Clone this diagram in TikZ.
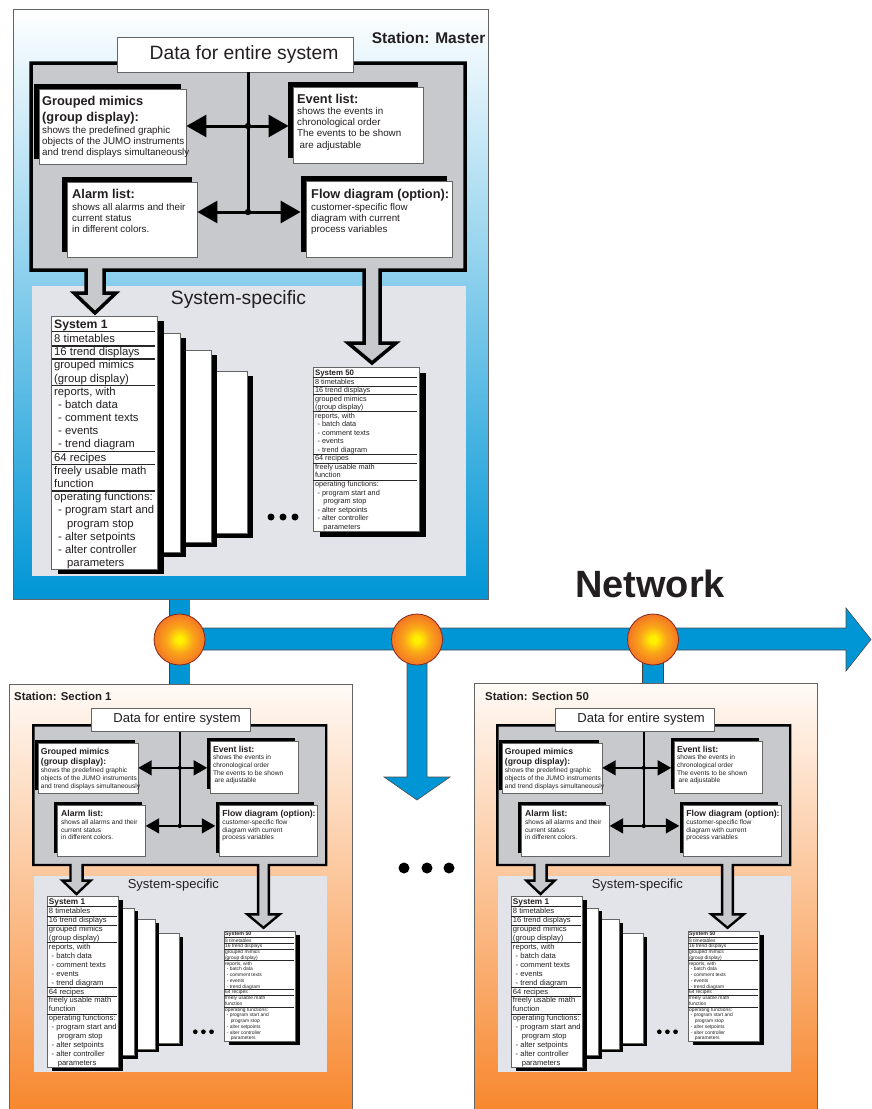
\documentclass[tikz,border=0pt]{standalone}
\usepackage{fontspec}
\setmainfont{Liberation Sans}
\usetikzlibrary{arrows.meta,shadows}
\definecolor{netblue}{RGB}{0,150,214}
\definecolor{lightblue}{RGB}{160,212,241}
\definecolor{boxgray}{RGB}{200,201,205}
\definecolor{panelgray}{RGB}{227,228,233}
\definecolor{peachtop}{RGB}{255,250,246}
\definecolor{peach}{RGB}{253,208,165}
\definecolor{orangebot}{RGB}{247,134,43}
\definecolor{edgegray}{RGB}{100,100,100}
\definecolor{ballred}{RGB}{236,80,36}
\definecolor{ballorange}{RGB}{243,118,35}
\definecolor{ballmid}{RGB}{250,165,25}
\definecolor{ballyellow}{RGB}{255,240,0}
\definecolor{ballrim}{RGB}{130,40,30}
\definecolor{textblack}{RGB}{35,31,32}
\pgfdeclareradialshading{ball}{\pgfpoint{0bp}{0bp}}{color(0bp)=(ballyellow); color(3bp)=(ballyellow); color(13bp)=(ballmid); color(25bp)=(ballorange); color(35bp)=(ballred); color(50bp)=(ballred)}
\def\shx{7}\def\shy{5}
\tikzset{
  databox/.style={draw=edgegray, fill=white, line width=0.8pt, inner sep=0pt, minimum width=236, minimum height=35},
  bigtxt/.style={font=\fontsize{19.3}{22}\selectfont, text=textblack, inner sep=0pt},
  infobox/.style={draw=edgegray, fill=white, line width=0.8pt, inner sep=0pt, general shadow={fill=black, shadow xshift=-5pt, shadow yshift=5pt}},
  headtxt/.style={anchor=base west, inner sep=0pt, text=textblack, font=\bfseries\fontsize{12.8}{15}\selectfont},
  smalltxt/.style={anchor=base west, inner sep=0pt, text=textblack, font=\fontsize{9.8}{11}\selectfont},
  listbox/.style={draw=edgegray, fill=white, line width=0.9pt, inner sep=0pt, general shadow={fill=black, shadow xshift=\shx pt, shadow yshift=-\shy pt}},
  page/.style={draw=edgegray, fill=white, line width=0.8pt, inner sep=0pt, general shadow={fill=black, shadow xshift=6pt, shadow yshift=-5pt}},
  listtxt/.style={anchor=base west, inner sep=0pt, text=textblack, font=\fontsize{11.3}{13}\selectfont},
  listtitle/.style={anchor=base west, inner sep=0pt, text=textblack, font=\bfseries\fontsize{12.2}{13}\selectfont},
  rule/.style={line width=1.4pt, draw=black!85},
  panel/.style={fill=panelgray, draw=none, inner sep=0pt},
  graypoly/.style={draw=black, fill=boxgray, line width=3.5pt, line join=miter, miter limit=10},
  conn/.style={line width=3pt, draw=black},
  dbl/.style={conn, {Triangle[length=20pt,width=22pt]}-{Triangle[length=20pt,width=22pt]}},
  stationlbl/.style={inner sep=0pt, text=textblack, font=\bfseries\fontsize{11.4}{13}\selectfont},
  pipe/.style={draw=black!75, line width=0.6pt, double=netblue, double distance=20pt},
  netshape/.style={fill=netblue, draw=black!70, line width=0.6pt, line join=miter},
  ballnode/.style={circle, minimum size=51, inner sep=0pt, draw=ballrim, line width=0.8pt, shading=ball},
}
\newcommand\syslist[3]{%
  \node[listbox, minimum width=#3, minimum height=253, anchor=north west] (#1-box) at (0,0) {};
  \node[listtitle] (#1-title) at (3,12.5) {#2};
  \foreach \yy in {15.5,29.8,43,69.3,135.2,148.4,174.8}
    \draw[rule] (0.6,\yy) -- ({#3-2.5},\yy);
  \foreach \xx/\txt [count=\k from 0] in {3/8 timetables, 3/16 trend displays, 3/grouped mimics, 3/(group display), 3/{reports, with}, 7/- batch data, 7/- comment texts, 7/- events, 7/- trend diagram, 3/64 recipes, 3/freely usable math, 3/function, 3/operating functions:, 7/- program start and, 16/program stop, 7/- alter setpoints, 7/- alter controller, 16/parameters}
    \node[listtxt] (#1-r\k) at (\xx,{26.5+13.18*\k}) {\txt};
}
\newcommand\stationcontent[1]{%
  \node[panel, minimum width=434, minimum height=290, anchor=north west] (#1-panel) at (32,286) {};
  \node[bigtxt, anchor=base] (#1-sstitle) at (238.5,304) {System-specific};
  \node[page, minimum width=42, minimum height=162, anchor=north west] (#1-p4) at (205,371) {};
  \node[page, minimum width=36, minimum height=192, anchor=north west] (#1-p3) at (175,350) {};
  \node[page, minimum width=40, minimum height=219, anchor=north west] (#1-p2) at (140,333) {};
  \begin{scope}[shift={(51,316)}]
    \syslist{#1-sysa}{System 1}{106}
  \end{scope}
  \begin{scope}[transform canvas={shift={(313,367)},scale=0.647}]
    \def\shx{10.8}\def\shy{9.3}
    \syslist{#1-sysb}{System 50}{163.8}
  \end{scope}
  \foreach \dx in {271,283,295} \fill (\dx,517) circle[radius=3.5pt];
  \draw[graypoly] (31,63) -- (465,63) -- (465,270) -- (380,270) -- (380,343) -- (396,343) -- (372,363) -- (348,343) -- (364,343) -- (364,270) -- (104,270) -- (104,293) -- (116,293) -- (95,313) -- (74,293) -- (86,293) -- (86,270) -- (31,270) -- cycle;
  \node[databox] (#1-data) at (235,54.5) {};
  \node[bigtxt, anchor=base] (#1-datatxt) at (244,59.5) {Data for entire system};
  \node[infobox, minimum width=147, minimum height=75] (#1-grouped) at (112.5,126.5) {};
  \node[infobox, minimum width=130, minimum height=76] (#1-event) at (358,125) {};
  \node[infobox, minimum width=130, minimum height=75] (#1-alarm) at (132,219.5) {};
  \node[infobox, minimum width=146, minimum height=76] (#1-flow) at (379,219) {};
  \foreach \t [count=\k from 0] in {Grouped mimics, (group display):}
    \node[headtxt] (#1-gh\k) at (42,{105.6+15.6*\k}) {\t};
  \foreach \t [count=\k from 0] in {shows the predefined graphic, objects of the JUMO instruments, and trend displays simultaneously}
    \node[smalltxt] (#1-gs\k) at (42,{133.3+11.3*\k}) {\t};
  \node[headtxt] (#1-eh) at (297,103) {Event list:};
  \foreach \t [count=\k from 0] in {shows the events in, chronological order, The events to be shown}
    \node[smalltxt] (#1-es\k) at (297,{114.3+11.3*\k}) {\t};
  \node[smalltxt] (#1-es3) at (299.5,148.2) {are adjustable};
  \node[headtxt] (#1-ah) at (72,198) {Alarm list:};
  \foreach \t [count=\k from 0] in {shows all alarms and their, current status, in different colors.}
    \node[smalltxt] (#1-as\k) at (72,{210+11.3*\k}) {\t};
  \node[headtxt] (#1-fh) at (311,198) {Flow diagram (option):};
  \foreach \t [count=\k from 0] in {customer-specific flow, diagram with current, process variables}
    \node[smalltxt] (#1-fs\k) at (311,{210+11.3*\k}) {\t};
  \coordinate (#1-j1) at (248,126);
  \coordinate (#1-j2) at (248,212);
  \coordinate (#1-evl) at ([xshift=-4pt]#1-event.west);
  \coordinate (#1-fll) at ([xshift=-5pt]#1-flow.west);
  \draw[conn] (#1-data.south -| #1-j1) -- (#1-j2);
  \draw[dbl] (#1-grouped.east |- #1-j1) -- (#1-evl |- #1-j1);
  \draw[dbl] (#1-alarm.east |- #1-j2) -- (#1-fll |- #1-j2);
  \fill (#1-j1) circle[radius=3.2pt];
  \fill (#1-j2) circle[radius=3.2pt];
}
\begin{document}
\begin{tikzpicture}[x=1pt,y=-1pt]
\useasboundingbox (0,0) rectangle (872,1109);
% master station
\node[draw=edgegray, line width=0.8pt, top color=white, middle color=lightblue, bottom color=netblue, minimum width=475, minimum height=590, inner sep=0pt, anchor=north west] (master) at (13,9) {};
\node[stationlbl, font=\bfseries\fontsize{15.5}{17}\selectfont, anchor=base east] (masterlbl) at (485.5,43.5) {Station: Master};
\stationcontent{m}
% section stations
\node[draw=edgegray, line width=0.8pt, top color=peachtop, middle color=peach, bottom color=orangebot, minimum width=343, minimum height=432, inner sep=0pt, anchor=north west] (sec1) at (9,684) {};
\node[stationlbl, anchor=base west] (sec1lbl) at (14,700) {Station: Section 1};
\begin{scope}[transform canvas={shift={(12.4,682.8)},scale=0.675}]
  \stationcontent{sa}
\end{scope}
\node[draw=edgegray, line width=0.8pt, top color=peachtop, middle color=peach, bottom color=orangebot, minimum width=343, minimum height=432, inner sep=0pt, anchor=north west] (sec50) at (474,683) {};
\node[stationlbl, anchor=base west] (sec50lbl) at (485,700) {Station: Section 50};
\begin{scope}[transform canvas={shift={(476.4,682.8)},scale=0.675}]
  \stationcontent{sb}
\end{scope}
% network
\coordinate (c1) at (179.5,639.5);
\coordinate (c2) at (417,639.5);
\coordinate (c3) at (653,639.5);
\draw[pipe] (master.south -| c1) -- (sec1.north -| c1);
\draw[pipe] (c3) -- (sec50.north -| c3);
\draw[netshape] (179,628) -- (846,628) -- (846,608) -- (871,639.5) -- (846,671) -- (846,650) -- (179,650) -- cycle;
\draw[netshape] (407,650) -- (407,777) -- (384,777) -- (417,800) -- (450,777) -- (427,777) -- (427,650) -- cycle;
\node[ballnode] (n1) at (c1) {};
\node[ballnode] (n2) at (c2) {};
\node[ballnode] (n3) at (c3) {};
\node[anchor=base west, inner sep=0pt, text=textblack, font=\bfseries\fontsize{38}{40}\selectfont] (network) at (575,597) {Network};
\foreach \dx in {404,427,449} \fill (\dx,868) circle[radius=5.5pt];
\end{tikzpicture}
\end{document}
